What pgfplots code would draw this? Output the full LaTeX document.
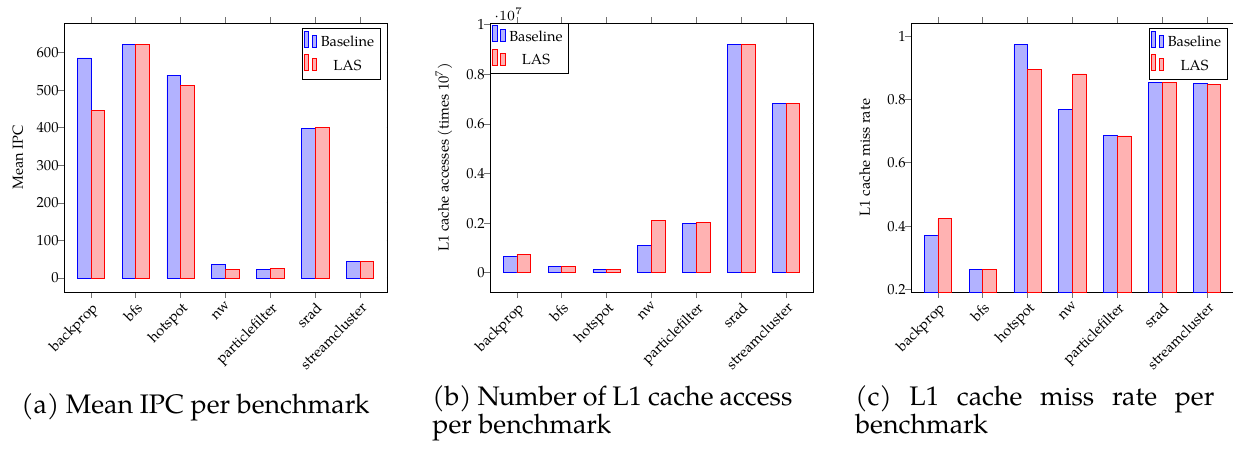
\documentclass[border=0pt]{standalone}
\usepackage{pgfplots}
\pgfplotsset{compat=1.18}
\usepackage{fontspec}
\setmainfont{TeX Gyre Pagella}
\definecolor{tickgray}{gray}{0.45}
\newcommand{\tickfont}{\fontsize{7.3}{8.7}\selectfont}
\newcommand{\capfont}{\fontsize{13.4}{13.8}\selectfont}
\pgfplotsset{
  benchaxis/.style={
    scale only axis,
    width=161.5pt, height=134.5pt,
    anchor=south west,
    ybar=0pt, bar width=6.85pt,
    xmin=-0.6, xmax=6.6,
    xtick={0,1,2,3,4,5,6},
    xticklabels={backprop,bfs,hotspot,nw,particlefilter,srad,streamcluster},
    x tick label style={rotate=45, anchor=north east, inner sep=1pt},
    y tick label style={inner sep=0.5pt, xshift=1pt},
    tick align=outside,
    ytick pos=left,
    major tick length=3pt,
    every tick/.style={tickgray},
    tick label style={font=\tickfont},
    label style={font=\tickfont},
    /pgf/number format/assume math mode=true,
    legend cell align=center,
    legend style={draw=black, font=\tickfont, inner sep=1pt, row sep=0pt},
    legend image code/.code={\draw[##1,/tikz/.cd,bar width=2.15pt,yshift=-0.2em,bar shift=0pt] plot coordinates {(0cm,0.8em) (3.9pt,0.6em)};},
    ylabel style={at={(rel axis cs:-0.143,0.5)}, anchor=center},
  }
}
\begin{document}
\begin{tikzpicture}
\useasboundingbox (0,0) rectangle (616.5pt,-226pt);
% (a)
\begin{axis}[benchaxis, at={(32pt,-146pt)},
  ymin=-37, ymax=679, ytick={0,100,200,300,400,500,600},
  ylabel={Mean IPC}]
\addplot[draw=blue, fill=blue!30] coordinates {(0,586) (1,621) (2,540) (3,37) (4,22) (5,398) (6,45)};
\addplot[draw=red, fill=red!30] coordinates {(0,446) (1,621) (2,512) (3,24) (4,25) (5,401) (6,45)};
\legend{Baseline,LAS}
\pgfplotsinvokeforeach{0,100,200,300,400,500,600}{\draw[tickgray] ({rel axis cs:1,0}|-{axis cs:0,#1}) -- ++(-3pt,0);}
\end{axis}
% (b)
\begin{axis}[benchaxis, at={(245pt,-146pt)},
  ymin=-776000, ymax=10067000, ytick={0,2000000,4000000,6000000,8000000,10000000},
  scaled y ticks=base 10:-7,
  every y tick scale label/.style={at={(rel axis cs:0,1)}, anchor=south west, inner sep=1pt, font=\tickfont},
  legend style={at={(0,1)}, anchor=north west},
  ylabel={L1 cache accesses (times 10\textsuperscript{7})}]
\addplot[draw=blue, fill=blue!30] coordinates {(0,670000) (1,268000) (2,120000) (3,1086000) (4,1997000) (5,9196000) (6,6823000)};
\addplot[draw=red, fill=red!30] coordinates {(0,737000) (1,268000) (2,120000) (3,2105000) (4,2024000) (5,9196000) (6,6823000)};
\legend{Baseline,LAS}
\pgfplotsinvokeforeach{0,2000000,4000000,6000000,8000000,10000000}{\draw[tickgray] ({rel axis cs:1,0}|-{axis cs:0,#1}) -- ++(-3pt,0);}
\end{axis}
% (c)
\begin{axis}[benchaxis, at={(455.5pt,-146pt)},
  ymin=0.1916, ymax=1.042, ytick={0.2,0.4,0.6,0.8,1},
  ylabel={L1 cache miss rate}]
\addplot[draw=blue, fill=blue!30] coordinates {(0,0.370) (1,0.262) (2,0.974) (3,0.768) (4,0.687) (5,0.854) (6,0.850)};
\addplot[draw=red, fill=red!30] coordinates {(0,0.423) (1,0.262) (2,0.894) (3,0.881) (4,0.685) (5,0.854) (6,0.848)};
\legend{Baseline,LAS}
\pgfplotsinvokeforeach{0.2,0.4,0.6,0.8,1}{\draw[tickgray] ({rel axis cs:1,0}|-{axis cs:0,#1}) -- ++(-3pt,0);}
\end{axis}
% captions
\node[anchor=base west, inner sep=0pt, font=\capfont] at (10.5pt,-206.65pt) {(a) Mean IPC per benchmark};
\node[anchor=base west, inner sep=0pt, font=\capfont] at (216pt,-202.85pt) {\parbox[t]{180pt}{\hyphenpenalty=10000\relax (b) Number of L1 cache access\linebreak per benchmark}};
\node[anchor=base west, inner sep=0pt, font=\capfont] at (427.5pt,-202.85pt) {\parbox[t]{179.5pt}{\hyphenpenalty=10000\relax (c) L1 cache miss rate per\linebreak benchmark}};
\end{tikzpicture}
\end{document}
